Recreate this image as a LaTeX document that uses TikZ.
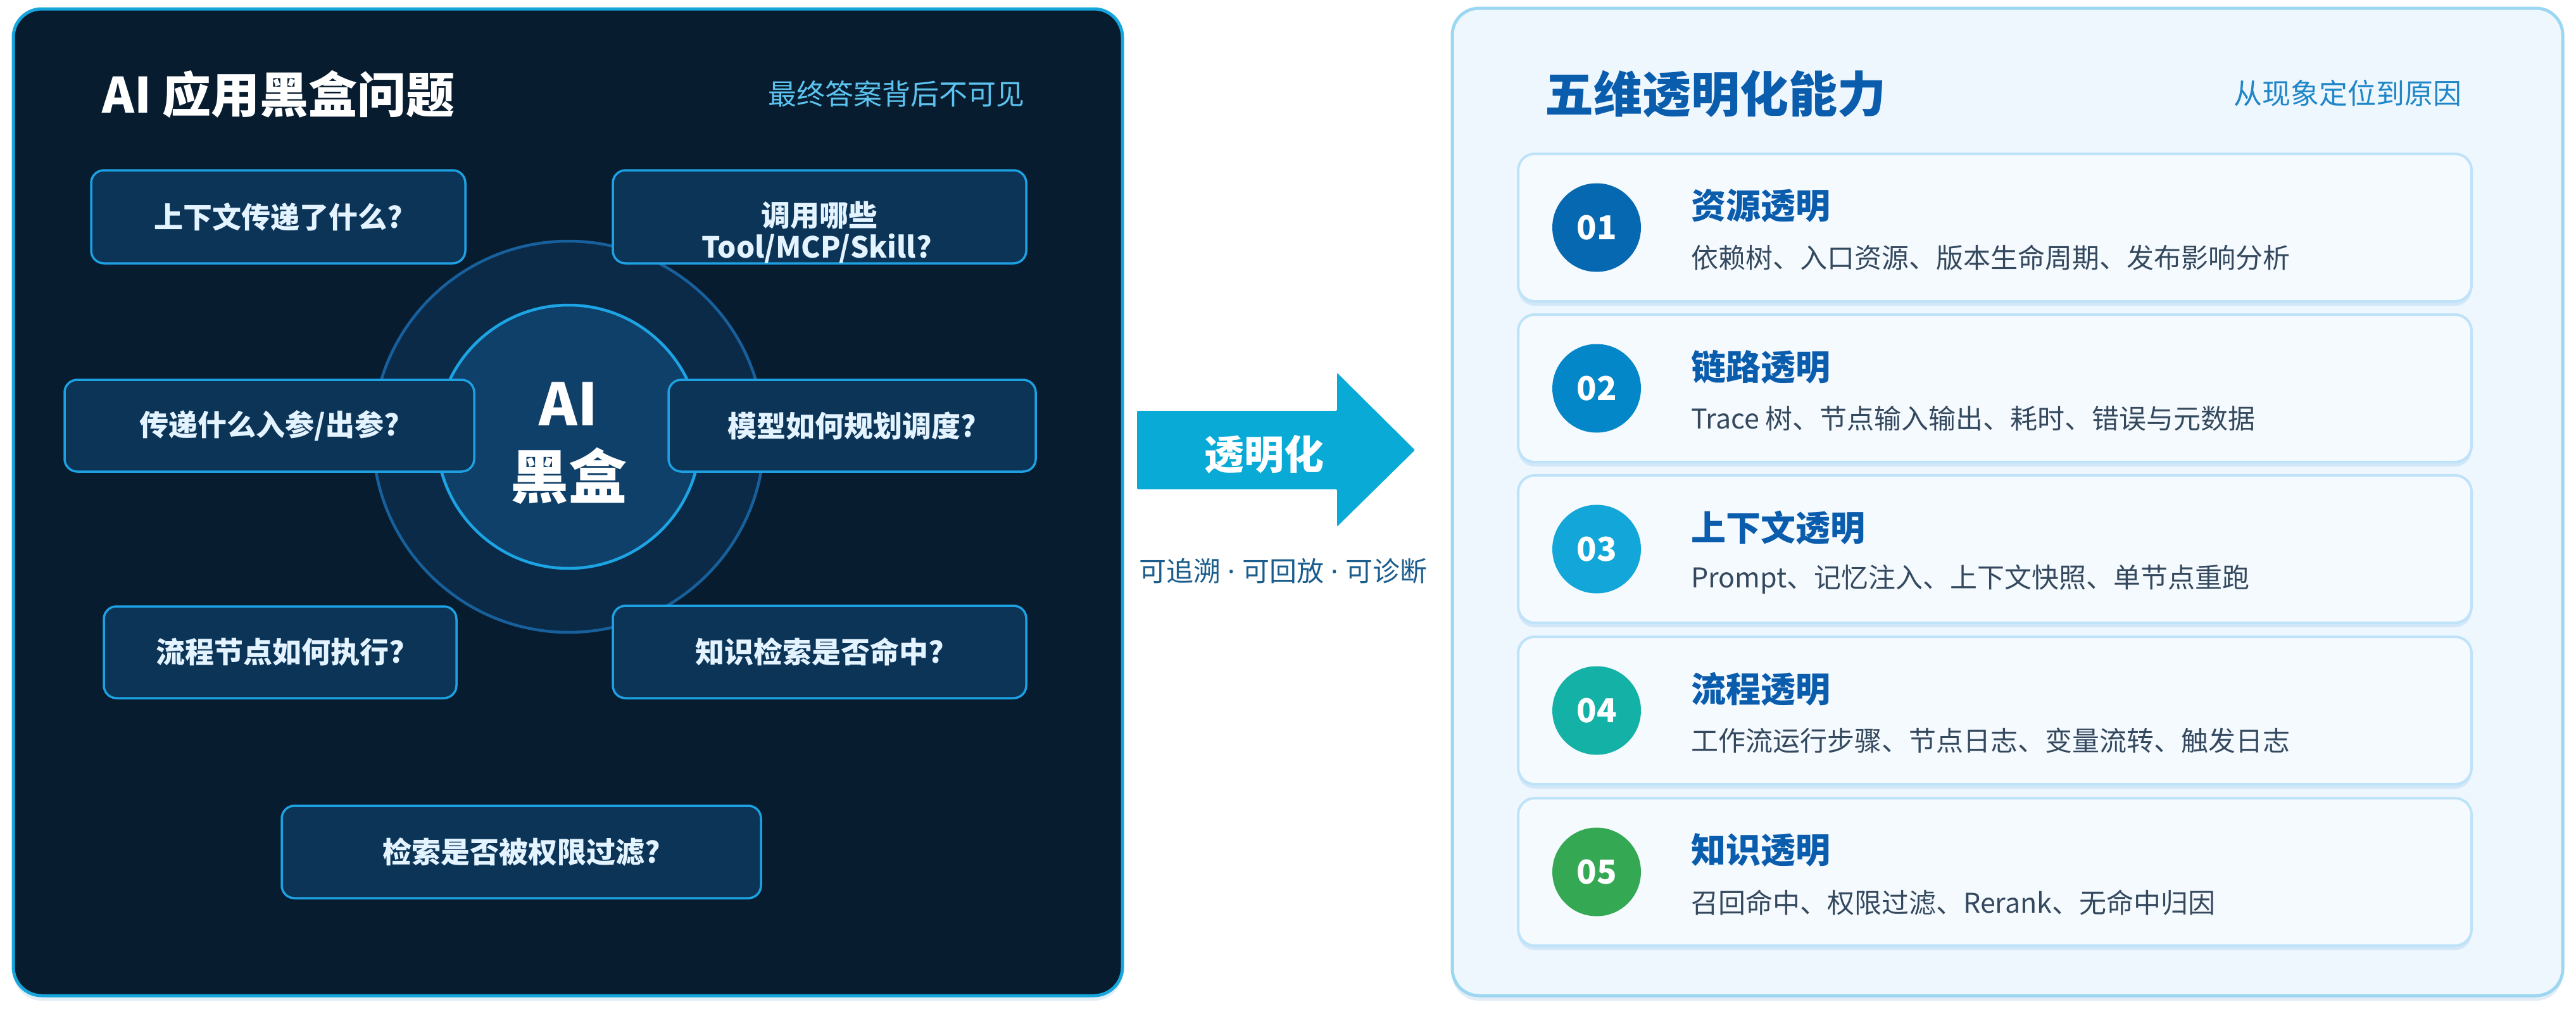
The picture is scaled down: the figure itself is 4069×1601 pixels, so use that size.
\documentclass[tikz,border=0pt]{standalone}
\usepackage{fontspec}
\setmainfont{Noto Sans CJK SC}
\newfontfamily\latinfont{Noto Sans}
\usetikzlibrary{shadows}
\definecolor{lpfill}{HTML}{081C30}
\definecolor{lpstroke}{HTML}{17A6DC}
\definecolor{qfill}{HTML}{0B3457}
\definecolor{qstroke}{HTML}{1DA1E2}
\definecolor{qtextc}{HTML}{E3F3FF}
\definecolor{ringfill}{HTML}{0A2A48}
\definecolor{ringstroke}{HTML}{17609C}
\definecolor{innerfill}{HTML}{0F4069}
\definecolor{innerstroke}{HTML}{1CA4E4}
\definecolor{lsub}{HTML}{5CC3EE}
\definecolor{arrowc}{HTML}{0AAAD7}
\definecolor{captionc}{HTML}{1B5E8E}
\definecolor{rpfill}{HTML}{EFF7FE}
\definecolor{rpstroke}{HTML}{9CD7F2}
\definecolor{cardfill}{HTML}{F5FAFF}
\definecolor{cardstroke}{HTML}{BEE2F8}
\definecolor{ctitle}{HTML}{0A5CAC}
\definecolor{cdesc}{HTML}{34495E}
\definecolor{rsub}{HTML}{1F86C8}
\definecolor{lshadow}{HTML}{C8DCEF}
\definecolor{cshadow}{HTML}{BFDDF5}
\definecolor{n01}{HTML}{0668B1}
\definecolor{n02}{HTML}{0387C9}
\definecolor{n03}{HTML}{12A6D9}
\definecolor{n04}{HTML}{14B1A7}
\definecolor{n05}{HTML}{35A853}
\tikzset{
  lpanel/.style={draw=lpstroke, line width=5pt, fill=lpfill, rounded corners=45pt,
    minimum width=1752pt, minimum height=1559pt, inner sep=0pt,
    drop shadow={shadow xshift=0pt, shadow yshift=-8pt, fill=lshadow, opacity=0.5}},
  rpanel/.style={draw=rpstroke, line width=5pt, fill=rpfill, rounded corners=42pt,
    minimum width=1754pt, minimum height=1560pt, inner sep=0pt,
    drop shadow={shadow xshift=0pt, shadow yshift=-8pt, fill=lshadow, opacity=0.5}},
  qbox/.style={draw=qstroke, line width=3.5pt, fill=qfill, rounded corners=20pt, inner sep=0pt},
  qtext/.style={text=qtextc, font=\fontsize{46}{55}\selectfont\bfseries, inner sep=0pt},
  ltitle/.style={text=white, font=\fontsize{77}{90}\selectfont\bfseries, anchor=west, inner sep=0pt},
  rtitle/.style={text=ctitle, font=\fontsize{77}{90}\selectfont\bfseries, anchor=west, inner sep=0pt},
  subt/.style={font=\fontsize{45}{54}\selectfont, anchor=east, inner sep=0pt},
  card/.style={draw=cardstroke, line width=4pt, fill=cardfill, rounded corners=26pt,
    minimum width=1506pt, minimum height=233pt, inner sep=0pt,
    drop shadow={shadow xshift=0pt, shadow yshift=-7pt, fill=cshadow, opacity=0.6}},
  numc/.style={circle, minimum size=140pt, inner sep=0pt, text=white,
    font=\fontsize{52}{60}\selectfont\bfseries},
  cardtitle/.style={text=ctitle, font=\fontsize{55}{66}\selectfont\bfseries, anchor=west, inner sep=0pt},
  carddesc/.style={text=cdesc, font=\fontsize{43}{52}\selectfont, anchor=west, inner sep=0pt}
}
\newcommand{\middot}{{\latinfont\ ·\ }}
\begin{document}
\begin{tikzpicture}[x=1pt,y=-1pt]
\useasboundingbox (0,0) rectangle (4069,1601);
\fill[white] (0,0) rectangle (4069,1601);

% ---------- left panel ----------
\node[lpanel] (lp) at (897,793.5) {};
\node[ltitle] (lt) at (161,149) {AI 应用黑盒问题};
\node[subt, text=lsub] (ls) at (1619,148) {最终答案背后不可见};

\node[circle, minimum size=618pt, inner sep=0pt, draw=ringstroke, line width=4.5pt, fill=ringfill] (ring) at (898,690) {};
\node[circle, minimum size=416pt, inner sep=0pt, draw=innerstroke, line width=4.5pt, fill=innerfill] (core) at (898,690) {};

\node[qbox, minimum width=591pt, minimum height=147pt] (q1) at (439.5,342.5) {};
\node[qtext] (q1t) at (q1.center) {上下文传递了什么?};
\node[qbox, minimum width=653pt, minimum height=147pt] (q2) at (1294.5,342.5) {};
\node[qtext] (q2t) at (1294.5,340) {调用哪些};
\node[qtext] (q2u) at (1290,393) {Tool/MCP/Skill?};
\node[qbox, minimum width=647pt, minimum height=145pt] (q3) at (425.5,672.5) {};
\node[qtext] (q3t) at (q3.center) {传递什么入参/出参?};
\node[qbox, minimum width=580pt, minimum height=145pt] (q4) at (1346,672.5) {};
\node[qtext] (q4t) at (q4.center) {模型如何规划调度?};
\node[qbox, minimum width=557pt, minimum height=145pt] (q5) at (442.5,1030.5) {};
\node[qtext] (q5t) at (q5.center) {流程节点如何执行?};
\node[qbox, minimum width=653pt, minimum height=146pt] (q6) at (1294.5,1030) {};
\node[qtext] (q6t) at (q6.center) {知识检索是否命中?};
\node[qbox, minimum width=757pt, minimum height=146pt] (q7) at (823.5,1346) {};
\node[qtext] (q7t) at (q7.center) {检索是否被权限过滤?};

\node[align=center, text=white, font=\fontsize{92}{115}\selectfont\bfseries, inner sep=0pt] (ai) at (898,700) {AI\\黑盒};

% ---------- arrow ----------
\coordinate (a1) at (1796,649);
\coordinate (a2) at (2112,649);
\coordinate (a3) at (2112,589);
\coordinate (a4) at (2235,711);
\coordinate (a5) at (2112,832);
\coordinate (a6) at (2112,773);
\coordinate (a7) at (1796,773);
\fill[arrowc, rounded corners=2pt] (a1) -- (a2) -- (a3) -- (a4) -- (a5) -- (a6) -- (a7) -- cycle;
\node[text=white, font=\fontsize{63}{72}\selectfont\bfseries, inner sep=0pt] (tr) at (1997,718) {透明化};
\node[text=captionc, font=\fontsize{43}{52}\selectfont, inner sep=0pt] (cap) at (2027,902) {可追溯\middot 可回放\middot 可诊断};

% ---------- right panel ----------
\node[rpanel] (rp) at (3171,793) {};
\node[rtitle] (rt) at (2440,149) {五维透明化能力};
\node[subt, text=rsub] (rs) at (3889,147) {从现象定位到原因};

\foreach \cy/\n/\t/\d in {
  359.5/01/资源透明/依赖树、入口资源、版本生命周期、发布影响分析,
  613.5/02/链路透明/Trace 树、节点输入输出、耗时、错误与元数据,
  867.5/03/上下文透明/Prompt、记忆注入、上下文快照、单节点重跑,
  1122.5/04/流程透明/工作流运行步骤、节点日志、变量流转、触发日志,
  1377.5/05/知识透明/召回命中、权限过滤、Rerank、无命中归因}{
  \node[card] (card\n) at (3151,\cy) {};
  \node[numc, fill=n\n] (num\n) at (2522,\cy) {\n};
  \node[cardtitle] (title\n) at (2671,\cy-34) {\t};
  \node[carddesc] (desc\n) at (2671,\cy+48) {\d};
}
\end{tikzpicture}
\end{document}
